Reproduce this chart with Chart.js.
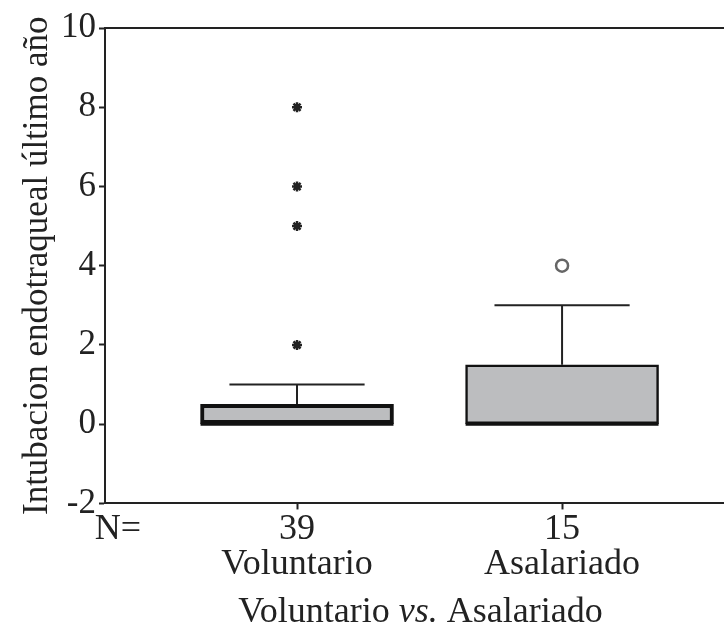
<!DOCTYPE html>
<html>
<head>
<meta charset="utf-8">
<script src="https://cdn.jsdelivr.net/npm/chart.js@4"></script>
<style>
  html, body { margin: 0; padding: 0; background: #fff; }
</style>
</head>
<body>
<canvas id="myChart" width="724" height="631"></canvas>
<script>
const ctx = document.getElementById('myChart')

// box plot summary
let groups = ['Voluntario', 'Asalariado']
let counts = ['39', '15']
let groupPos = [1, 2]
let q1 = [0, 0]
let q3 = [0.5, 1.5]
let medians = [0, 0]
let whiskerHi = [1, 3]
let extremes = [[8, 6, 5, 2], []]   // stars
let outliers = [[], [4]]            // circles
let yTicks = [-2, 0, 2, 4, 6, 8, 10]

const serif = 'Liberation Serif'
const boxHalf = 0.364
const capHalf = 0.255
const xMin = 0.2755
const xMax = 2.611
const nPos = 0.3245

let boxData = groupPos.map((g, i) => ({ x: g, y: [q1[i], q3[i]] }))

let whiskers = []
groupPos.forEach((g, i) => {
    whiskers.push({ x: g, y: q3[i] }, { x: g, y: whiskerHi[i] }, { x: null, y: null })
    whiskers.push({ x: g - capHalf, y: whiskerHi[i] }, { x: g + capHalf, y: whiskerHi[i] }, { x: null, y: null })
})

let medianLines = []
groupPos.forEach((g, i) => {
    medianLines.push({ x: g - boxHalf, y: medians[i] }, { x: g + boxHalf, y: medians[i] }, { x: null, y: null })
})

let stars = []
let circles = []
groupPos.forEach((g, i) => {
    extremes[i].forEach(v => stars.push({ x: g, y: v }))
    outliers[i].forEach(v => circles.push({ x: g, y: v }))
})

// x title with italic "vs."
const xTitle = {
    id: 'xTitle',
    afterDraw(chart) {
        const c = chart.ctx
        const a = chart.chartArea
        const parts = [['Voluntario ', 'normal'], ['vs.', 'italic'], [' Asalariado', 'normal']]
        c.save()
        c.fillStyle = '#222'
        c.textBaseline = 'alphabetic'
        let total = 0
        parts.forEach(p => { c.font = p[1] + ' 36px "' + serif + '"'; total += c.measureText(p[0]).width })
        let x = (a.left + a.right) / 2 - total / 2 + 6
        const y = a.bottom + 119
        parts.forEach(p => {
            c.font = p[1] + ' 36px "' + serif + '"'
            c.fillText(p[0], x, y)
            x += c.measureText(p[0]).width
        })
        c.restore()
    }
}

new Chart(ctx, {
    type: 'bar',
    data: {
        datasets: [
            {
                type: 'line',
                data: whiskers,
                borderColor: '#222',
                borderWidth: 2,
                pointRadius: 0,
                spanGaps: false,
                order: 3
            },
            {
                type: 'bar',
                data: boxData,
                backgroundColor: '#bcbdbf',
                borderColor: '#111',
                borderWidth: [4, 2.5],
                borderSkipped: false,
                barThickness: 193,
                order: 2
            },
            {
                type: 'line',
                data: medianLines,
                borderColor: '#111',
                borderWidth: 3,
                pointRadius: 0,
                spanGaps: false,
                order: 1
            },
            {
                type: 'scatter',
                data: stars,
                pointStyle: 'star',
                pointRadius: 5,
                borderColor: '#222',
                borderWidth: 2.5,
                order: 0
            },
            {
                type: 'scatter',
                data: circles,
                pointStyle: 'circle',
                pointRadius: 6,
                backgroundColor: '#fff',
                borderColor: '#666',
                borderWidth: 2.5,
                order: 0
            }
        ]
    },
    options: {
        responsive: false,
        animation: false,
        layout: { autoPadding: false, padding: { top: 28, right: 0, bottom: 47, left: 0 } },
        plugins: { legend: { display: false }, tooltip: { enabled: false } },
        scales: {
            x: {
                type: 'linear',
                position: 'bottom',
                offset: false,
                min: xMin,
                max: xMax,
                afterBuildTicks: scale => {
                    scale.ticks = [{ value: nPos }].concat(groupPos.map(g => ({ value: g })))
                },
                afterFit: scale => {
                    scale.paddingLeft = 0
                    scale.paddingRight = 0
                },
                ticks: {
                    autoSkip: false,
                    maxRotation: 0,
                    padding: 2,
                    color: '#222',
                    font: { family: serif, size: 36, lineHeight: 0.98 },
                    callback: value => {
                        if (value === nPos) return ['N=', '']
                        let i = groupPos.indexOf(value)
                        return [counts[i], groups[i]]
                    }
                },
                grid: {
                    offset: false,
                    drawOnChartArea: false,
                    tickLength: 6,
                    tickWidth: 2,
                    tickColor: c => (c.tick && c.tick.value === nPos) ? 'rgba(0,0,0,0)' : '#222'
                },
                border: { color: '#222', width: 2 }
            },
            x2: {
                type: 'linear',
                position: 'top',
                offset: false,
                min: xMin,
                max: xMax,
                afterFit: scale => {
                    scale.paddingLeft = 0
                    scale.paddingRight = 0
                },
                ticks: { display: false },
                grid: { display: false, drawTicks: false, offset: false },
                border: { display: true, color: '#222', width: 2 }
            },
            y: {
                min: -2,
                max: 10,
                afterBuildTicks: scale => { scale.ticks = yTicks.map(v => ({ value: v })) },
                afterFit: scale => { scale.width = 105 },
                ticks: {
                    padding: 3,
                    color: '#222',
                    font: { family: serif, size: 35 }
                },
                grid: {
                    drawOnChartArea: false,
                    tickLength: 6,
                    tickWidth: 2,
                    tickColor: '#222'
                },
                border: { color: '#222', width: 2 },
                title: {
                    display: true,
                    text: 'Intubacion endotraqueal último año',
                    color: '#222',
                    font: { family: serif, size: 35 },
                    padding: { top: 17, bottom: 0 }
                }
            }
        }
    },
    plugins: [xTitle]
})
</script>
</body>
</html>
